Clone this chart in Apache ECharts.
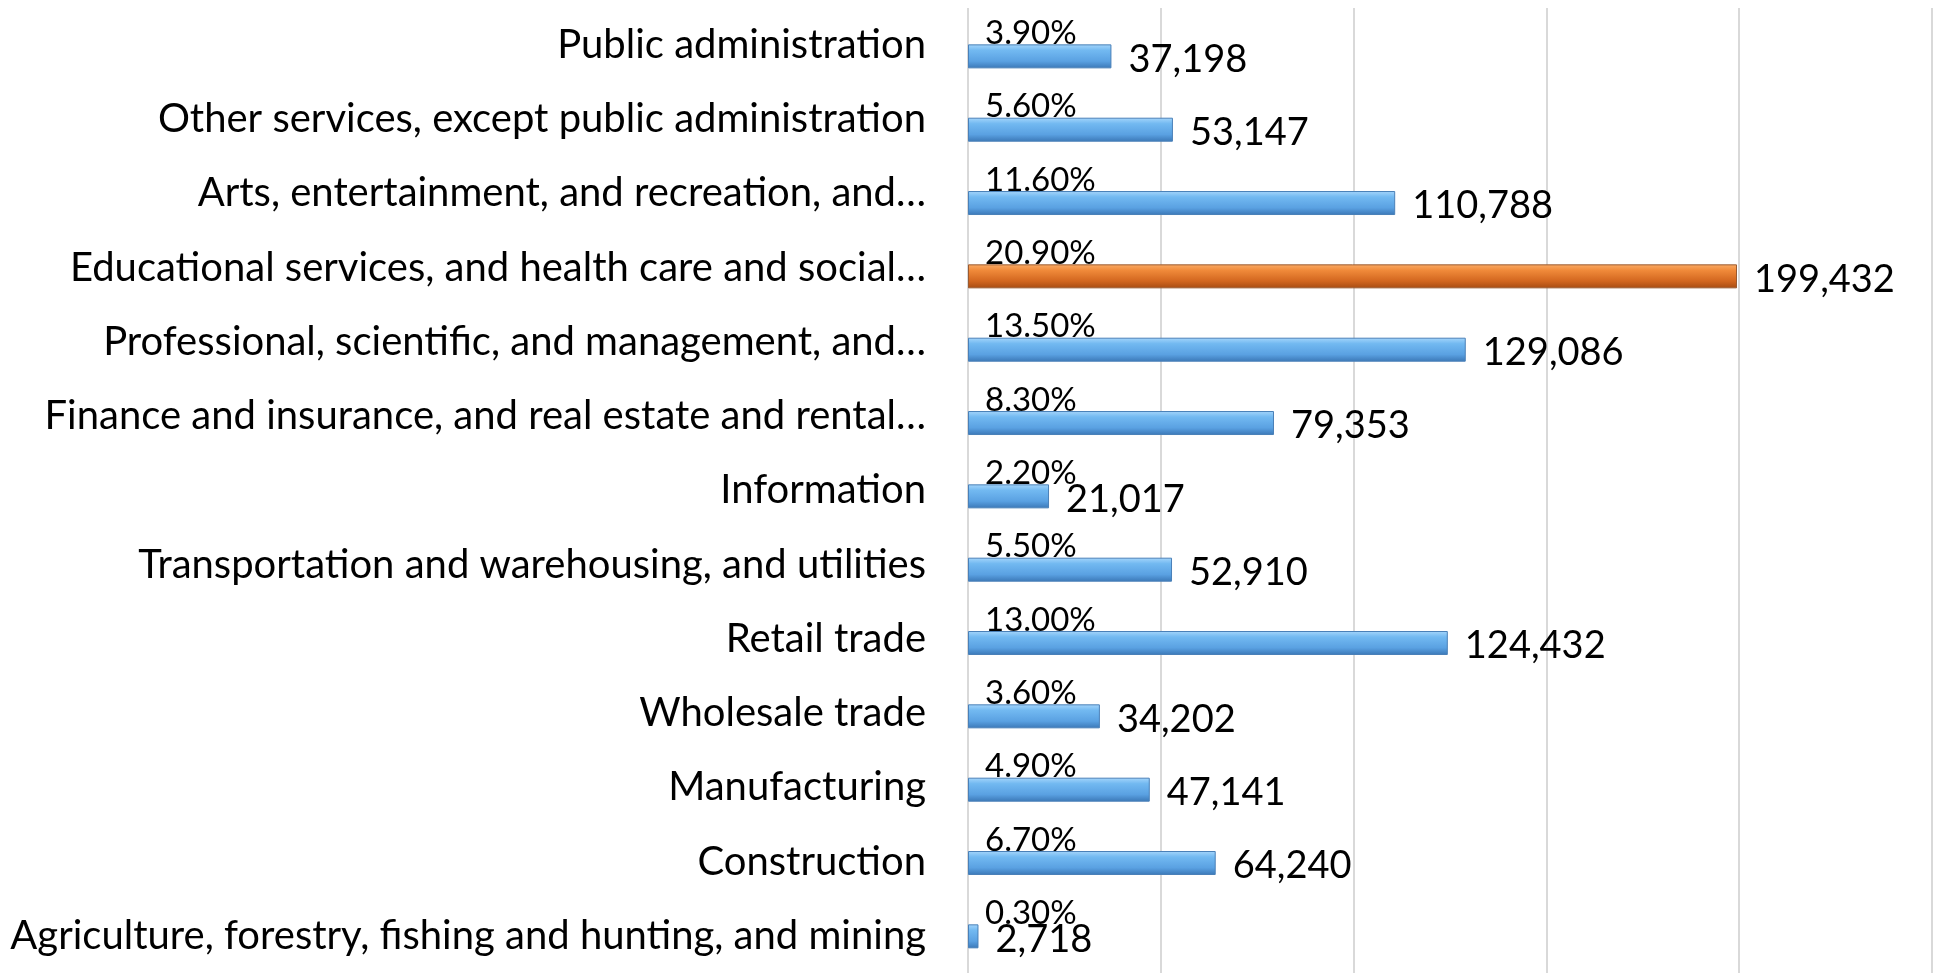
<!DOCTYPE html>
<html>
<head>
<meta charset="utf-8">
<script src="https://cdn.jsdelivr.net/npm/echarts@6/dist/echarts.min.js"></script>
<style>
  html, body { margin: 0; padding: 0; background: #fff; }
  #chart { width: 1936px; height: 973px; }
</style>
</head>
<body>
<div id="chart"></div>
<script>
// categories listed bottom to top (category axis runs upward)
const industries = [
  'Agriculture, forestry, fishing and hunting, and mining',
  'Construction',
  'Manufacturing',
  'Wholesale trade',
  'Retail trade',
  'Transportation and warehousing, and utilities',
  'Information',
  'Finance and insurance, and real estate and rental\u2026',
  'Professional, scientific, and management, and\u2026',
  'Educational services, and health care and social\u2026',
  'Arts, entertainment, and recreation, and\u2026',
  'Other services, except public administration',
  'Public administration'
];
const workers = [2718, 64240, 47141, 34202, 124432, 52910, 21017, 79353, 129086, 199432, 110788, 53147, 37198];
const shares = [0.3, 6.7, 4.9, 3.6, 13.0, 5.5, 2.2, 8.3, 13.5, 20.9, 11.6, 5.6, 3.9];
const highlight = 'Educational services, and health care and social\u2026';
const xTicks = [0, 50000, 100000, 150000, 200000, 250000];

const FONT = 'Lato, "Open Sans", sans-serif';

const blueFill = new echarts.graphic.LinearGradient(0, 0, 0, 1, [
  { offset: 0, color: '#a6d6fb' },
  { offset: 0.25, color: '#72b9f1' },
  { offset: 0.7, color: '#5aa1e2' },
  { offset: 1, color: '#3a77b6' }
]);
const orangeFill = new echarts.graphic.LinearGradient(0, 0, 0, 1, [
  { offset: 0, color: '#fbab66' },
  { offset: 0.25, color: '#f08a3a' },
  { offset: 0.7, color: '#d2661f' },
  { offset: 1, color: '#a64c12' }
]);

const chart = echarts.init(document.getElementById('chart'));

chart.setOption({
  animation: false,
  grid: [
    // bars
    { left: 968, width: 964, top: 19.7, height: 970.7 },
    // gridlines + category names (names sit a little above their bars)
    { left: 968, width: 964, top: 8, height: 970.7 }
  ],
  xAxis: [
    { gridIndex: 0, type: 'value', min: 0, max: xTicks[xTicks.length - 1], show: false },
    {
      gridIndex: 1, type: 'value', min: xTicks[0], max: xTicks[xTicks.length - 1], interval: xTicks[1] - xTicks[0],
      axisLine: { show: false }, axisTick: { show: false }, axisLabel: { show: false },
      splitLine: { show: true, lineStyle: { color: '#d9d9d9', width: 2 } }
    }
  ],
  yAxis: [
    { gridIndex: 0, type: 'category', data: industries, show: false },
    {
      gridIndex: 1, type: 'category', data: industries,
      axisLine: { show: false }, axisTick: { show: false }, splitLine: { show: false },
      axisLabel: { margin: 42, color: '#000', fontFamily: FONT, fontSize: 40 }
    }
  ],
  series: [
    {
      type: 'bar',
      xAxisIndex: 0, yAxisIndex: 0,
      barWidth: 24,
      data: workers.map((v, i) => ({
        value: v,
        itemStyle: {
          color: industries[i] === highlight ? orangeFill : blueFill,
          borderColor: industries[i] === highlight ? '#9a5a30' : '#4a80b8',
          borderWidth: 1
        }
      })),
      label: {
        show: true,
        position: 'right',
        distance: 17,
        offset: [0, 3],
        color: '#000',
        fontFamily: FONT,
        fontSize: 38,
        formatter: p => p.value.toLocaleString('en-US')
      }
    },
    {
      // transparent twin carrying the share labels
      type: 'bar',
      xAxisIndex: 0, yAxisIndex: 0,
      barWidth: 24,
      barGap: '-100%',
      silent: true,
      itemStyle: { color: 'rgba(0,0,0,0)' },
      data: workers,
      label: {
        show: true,
        position: [17, -11],
        verticalAlign: 'middle',
        color: '#000',
        fontFamily: FONT,
        fontSize: 33,
        formatter: p => shares[p.dataIndex].toFixed(2) + '%'
      }
    }
  ]
});
</script>
</body>
</html>
